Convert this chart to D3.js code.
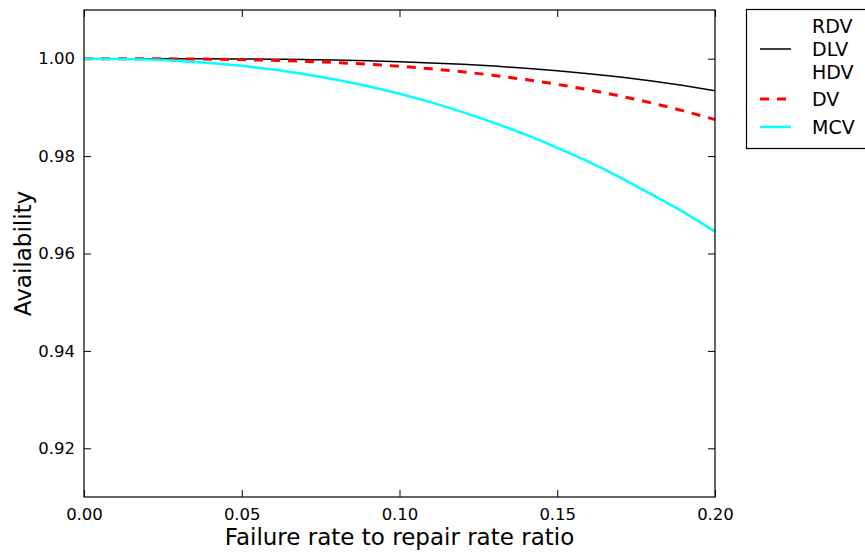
<!DOCTYPE html>
<html>
<head>
<meta charset="utf-8">
<style>
    body { margin: 0; background: white; }
    svg { font-family: 'DejaVu Sans', sans-serif; }
    .axis text { font-size: 16.5px; font-family: 'DejaVu Sans', sans-serif; }
</style>
</head>
<body>
<svg width="865" height="552"></svg>
<script src="https://d3js.org/d3.v7.min.js"></script>
<script>
    // ratio of failure rate to repair rate
    let ratios = [0, 0.01, 0.02, 0.03, 0.04, 0.05, 0.06, 0.07, 0.08, 0.09, 0.10,
        0.11, 0.12, 0.13, 0.14, 0.15, 0.16, 0.17, 0.18, 0.19, 0.20]

    // availability
    let dlv = [1.0, 1.0, 0.999997, 0.99999, 0.99997, 0.99994, 0.99989, 0.99982, 0.99971, 0.99957, 0.99938,
        0.99914, 0.99884, 0.99848, 0.99805, 0.99753, 0.99693, 0.99622, 0.99541, 0.99448, 0.99344]
    let rdv = dlv
    let hdv = dlv
    let dv = [1.0, 0.999998, 0.99999, 0.99996, 0.9999, 0.99981, 0.99966, 0.99946, 0.9992, 0.99886, 0.99844,
        0.99792, 0.9973, 0.99657, 0.99571, 0.99473, 0.9936, 0.99232, 0.99089, 0.98928, 0.9875]
    let mcv = [1.0, 0.99996, 0.99982, 0.99955, 0.99912, 0.99854, 0.99777, 0.99682, 0.99568, 0.99434, 0.9928,
        0.99103, 0.98904, 0.98683, 0.9844, 0.9817, 0.9788, 0.9756, 0.9721, 0.9685, 0.9645]

    let xTicks = [0, 0.05, 0.10, 0.15, 0.20]
    let yTicks = [0.92, 0.94, 0.96, 0.98, 1.00]

    let series = [
        { name: "RDV", values: rdv, color: "black", width: 0, dash: null },
        { name: "DLV", values: dlv, color: "black", width: 1.5, dash: null },
        { name: "HDV", values: hdv, color: "black", width: 0, dash: null },
        { name: "DV", values: dv, color: "red", width: 3, dash: "9,8" },
        { name: "MCV", values: mcv, color: "cyan", width: 2.5, dash: null }
    ]

    let plotLeft = 84, plotRight = 715, plotTop = 10, plotBottom = 497

    let svg = d3.select("svg")

    let x = d3.scaleLinear().domain([0, 0.2]).range([plotLeft, plotRight])
    let y = d3.scaleLinear().domain([0.91, 1.01]).range([plotBottom, plotTop])

    // ticks pointing inwards on all four sides
    svg.append("g")
        .attr("class", "axis")
        .attr("transform", `translate(0,${plotBottom})`)
        .call(d3.axisBottom(x).tickValues(xTicks).tickSize(-7).tickPadding(11).tickFormat(d3.format(".2f")))
        .call(g => g.select(".domain").remove())
    svg.append("g")
        .attr("class", "axis")
        .attr("transform", `translate(0,${plotTop})`)
        .call(d3.axisTop(x).tickValues(xTicks).tickSize(-7).tickFormat(""))
        .call(g => g.select(".domain").remove())
    svg.append("g")
        .attr("class", "axis")
        .attr("transform", `translate(${plotLeft},0)`)
        .call(d3.axisLeft(y).tickValues(yTicks).tickSize(-7).tickPadding(9).tickFormat(d3.format(".2f")))
        .call(g => g.select(".domain").remove())
    svg.append("g")
        .attr("class", "axis")
        .attr("transform", `translate(${plotRight},0)`)
        .call(d3.axisRight(y).tickValues(yTicks).tickSize(-7).tickFormat(""))
        .call(g => g.select(".domain").remove())

    svg.selectAll(".axis").attr("font-size", 16.5).attr("font-family", "'DejaVu Sans', sans-serif")
    svg.selectAll(".tick text").attr("fill", "black")
    svg.selectAll(".tick line").attr("stroke", "black")

    let line = d3.line()
        .x((d, i) => x(ratios[i]))
        .y(d => y(d))
        .curve(d3.curveMonotoneX)

    let plot = svg.append("g")
    plot.selectAll("path")
        .data(series.filter(s => s.width > 0))
        .join("path")
        .attr("d", s => line(s.values))
        .attr("fill", "none")
        .attr("stroke", s => s.color)
        .attr("stroke-width", s => s.width)
        .attr("stroke-dasharray", s => s.dash)

    // frame
    svg.append("rect")
        .attr("x", plotLeft).attr("y", plotTop)
        .attr("width", plotRight - plotLeft).attr("height", plotBottom - plotTop)
        .attr("fill", "none").attr("stroke", "black").attr("stroke-width", 1.2)

    svg.append("text")
        .attr("x", (plotLeft + plotRight) / 2).attr("y", 545)
        .attr("text-anchor", "middle").attr("font-size", 23)
        .text("Failure rate to repair rate ratio")
    svg.append("text")
        .attr("transform", `translate(31,${(plotTop + plotBottom) / 2}) rotate(-90)`)
        .attr("text-anchor", "middle").attr("font-size", 23)
        .text("Availability")

    // legend
    let legendY = [26, 49, 72, 99, 127]
    let legend = svg.append("g")
    legend.append("rect")
        .attr("x", 746.5).attr("y", 9.5).attr("width", 130).attr("height", 139)
        .attr("fill", "white").attr("stroke", "black").attr("stroke-width", 1.2)
    let items = legend.selectAll("g.item")
        .data(series)
        .join("g")
        .attr("class", "item")
        .attr("transform", (s, i) => `translate(0,${legendY[i]})`)
    items.filter(s => s.width > 0).append("line")
        .attr("x1", 760).attr("x2", 791)
        .attr("stroke", s => s.color)
        .attr("stroke-width", s => s.width)
        .attr("stroke-dasharray", s => s.dash)
    items.append("text")
        .attr("x", 812).attr("dy", "0.36em")
        .attr("font-size", 19)
        .text(s => s.name)
</script>
</body>
</html>
